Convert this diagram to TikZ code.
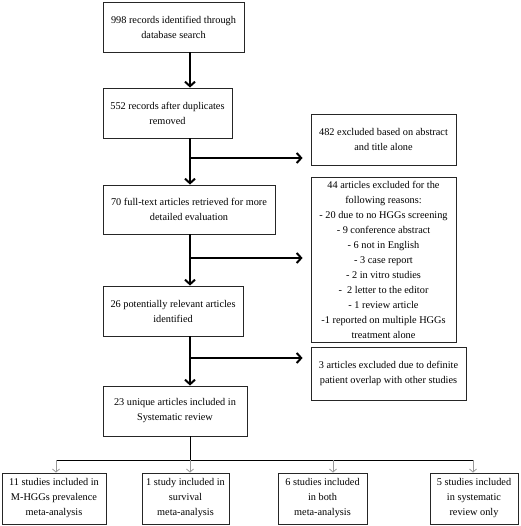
\documentclass[tikz,border=0pt]{standalone}
\usepackage{fontspec}
\setmainfont{Liberation Serif}
\usetikzlibrary{arrows.meta,calc}
\begin{document}
\begin{tikzpicture}[x=1pt,y=-1pt,
  box/.style={draw=black!85, line width=0.9pt, align=center, inner sep=0pt,
    font=\fontsize{10.3}{15}\selectfont},
  mainarrow/.style={line width=2pt, -{Straight Barb[length=4.5pt,width=10pt,line width=2pt]}},
  greyarrow/.style={draw=black!40, line width=0.8pt, -{Straight Barb[length=3pt,width=7pt]}},
  greyline/.style={draw=black, line width=0.9pt}]
\useasboundingbox (0,0) rectangle (520,526);
\newcommand\mybox[6]{\node[box, minimum width=#4-#2, minimum height=#5-#3] (#1) at ({(#2+#4)/2},{(#3+#5)/2}) {#6};}
\mybox{b1}{103}{2}{244}{52}{998 records identified through\\database search}
\mybox{b2}{103}{88}{232}{138}{552 records after duplicates\\removed}
\mybox{e1}{311}{114}{456}{165}{482 excluded based on abstract\\and title alone}
\mybox{b3}{103}{185}{275}{234}{70 full-text articles retrieved for more\\detailed evaluation}
\mybox{e2}{311}{177}{456}{342}{44 articles excluded for the\\following reasons:\\- 20 due to no HGGs screening\\- 9 conference abstract\\- 6 not in English\\- 3 case report\\- 2 in vitro studies\\-\ \ 2 letter to the editor\\- 1 review article\\-1 reported on multiple HGGs\\treatment alone}
\mybox{b4}{103}{286}{243}{336}{26 potentially relevant articles\\identified}
\mybox{e3}{311}{347}{466}{400}{3 articles excluded due to definite\\patient overlap with other studies}
\mybox{b5}{103}{386}{247}{436}{23 unique articles included in\\Systematic review}
\mybox{c1}{2}{473}{106}{524}{11 studies included in\\M-HGGs prevalence\\meta-analysis}
\mybox{c2}{142}{473}{229}{524}{1 study included in\\survival\\meta-analysis}
\mybox{c3}{278}{473}{367}{524}{6 studies included\\in both\\meta-analysis}
\mybox{c4}{430}{473}{518}{524}{5 studies included\\in systematic\\review only}
\coordinate (spine) at (190,0);
\coordinate (s1) at (190,158);
\coordinate (s2) at (190,258);
\coordinate (s3) at (190,358);
\coordinate (hub) at (190,460);
\coordinate (hl) at (56,460);
\coordinate (hm) at (333,460);
\coordinate (hr) at (473,460);
% main flow
\draw[mainarrow] (b1.south -| spine) -- (b2.north -| spine);
\draw[mainarrow] (b2.south -| spine) -- (b3.north -| spine);
\draw[mainarrow] (b3.south -| spine) -- (b4.north -| spine);
\draw[mainarrow] (b4.south -| spine) -- (b5.north -| spine);
% exclusions
\draw[mainarrow] (s1) -- ($(s1 -| e1.west)+(-8,0)$);
\draw[mainarrow] (s2) -- ($(s2 -| e2.west)+(-8,0)$);
\draw[mainarrow] (s3) -- ($(s3 -| e3.west)+(-8,0)$);
% split
\draw[greyline] (b5.south -| spine) -- (hub);
\draw[greyline] (hl) -- (hr);
\draw[greyarrow] (hl) -- (hl |- c1.north);
\draw[greyarrow] (hub) -- (hub |- c2.north);
\draw[greyarrow] (hm) -- (hm |- c3.north);
\draw[greyarrow] (hr) -- (hr |- c4.north);
\end{tikzpicture}
\end{document}
